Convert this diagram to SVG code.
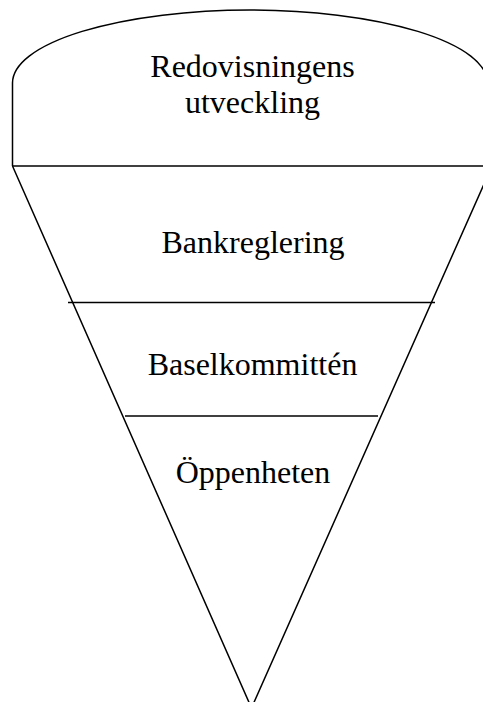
<svg xmlns="http://www.w3.org/2000/svg" width="483" height="702" viewBox="0 0 483 702">
<style>
.ln{fill:none;stroke:#000;stroke-width:1.5}
.t{font-family:"Liberation Serif","Times New Roman",serif;font-size:32px;fill:#000;text-anchor:middle}
</style>
<rect width="483" height="702" fill="#fff"/>
<g id="connectors">
<path class="ln" d="M12.5,166 L251.5,708 L492,166"/>
<line class="ln" x1="12.5" y1="166" x2="490" y2="166"/>
<line class="ln" x1="68" y1="302.5" x2="435" y2="302.5"/>
<line class="ln" x1="125" y1="416" x2="378" y2="416"/>
</g>
<g id="top">
<path class="ln" d="M12.5,166 V83 A237.5,73 0 0 1 487.5,83 V166"/>
<text class="t" x="252.5" y="77">Redovisningens</text>
<text class="t" x="252.5" y="113">utveckling</text>
</g>
<g id="bankreglering">
<text class="t" x="253" y="253">Bankreglering</text>
</g>
<g id="baselkommitten">
<text class="t" x="252.5" y="375">Baselkommittén</text>
</g>
<g id="oppenheten">
<text class="t" x="253" y="483">Öppenheten</text>
</g>
</svg>
